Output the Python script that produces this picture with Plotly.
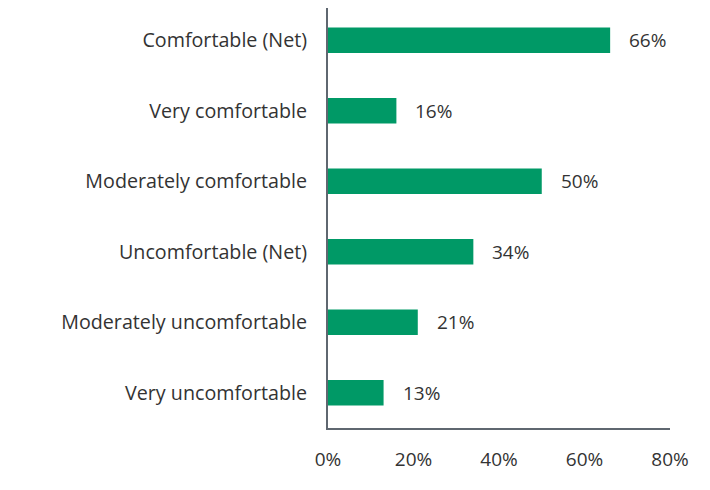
import plotly.graph_objects as go

categories = ["Comfortable (Net)", "Very comfortable", "Moderately comfortable",
              "Uncomfortable (Net)", "Moderately uncomfortable", "Very uncomfortable"]
values = [66, 16, 50, 34, 21, 13]
x_ticks = [0, 20, 40, 60, 80]
x_tick_labels = ["0%", "20%", "40%", "60%", "80%"]

green = "#009966"
axis_grey = "#5f6770"
text_col = "#333333"

fig = go.Figure(go.Bar(x=values, y=categories, orientation="h",
                       marker=dict(color=green, line=dict(width=0)),
                       hoverinfo="skip"))

# value labels sit a bit right of each bar end
for cat, v in zip(categories, values):
    fig.add_annotation(x=v, y=cat, text=f"{v}%", showarrow=False,
                       xanchor="left", xshift=17,
                       font=dict(size=19, color=text_col))

fig.update_layout(
    width=710, height=490,
    margin=dict(l=320, r=48, t=0, b=70),
    plot_bgcolor="white", paper_bgcolor="white",
    font=dict(family="Open Sans", size=19, color=text_col),
    bargap=0.64,
    showlegend=False,
)
fig.update_xaxes(range=[0, 80], tickvals=x_ticks, ticktext=x_tick_labels,
                 showgrid=False, zeroline=False, showline=True,
                 linecolor=axis_grey, linewidth=2, ticks="",
                 ticklabelstandoff=13)
fig.update_yaxes(categoryorder="array", categoryarray=categories[::-1],
                 range=[-0.5, 5.457], tickfont=dict(size=19.7),
                 showgrid=False, zeroline=False, showline=True,
                 linecolor=axis_grey, linewidth=2, ticks="",
                 ticklabelstandoff=15)

fig.write_html("out.html")
